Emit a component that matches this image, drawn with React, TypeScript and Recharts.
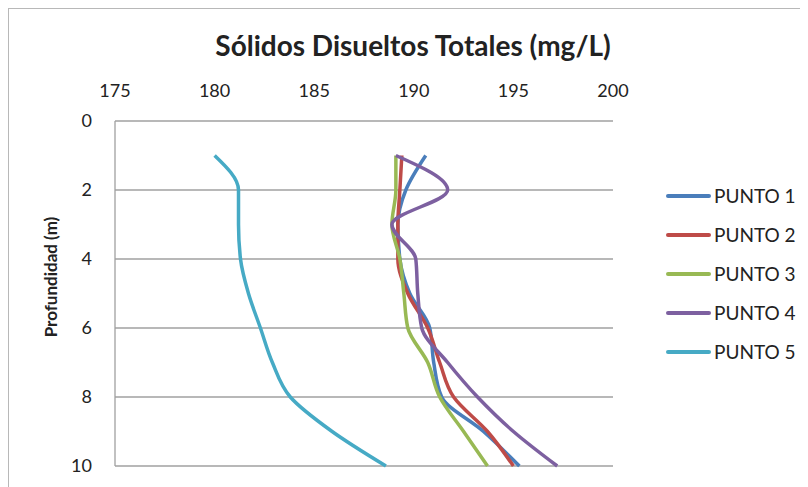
import React from "react";
import { CartesianGrid, Line, LineChart, XAxis, YAxis } from "recharts";

// Profundidad de cada muestra (m)
const DEPTHS = [1, 2, 3, 4, 5, 6, 7, 8, 9, 10];

// SDT (mg/L) por punto de muestreo
const PUNTO_1 = [190.6, 189.6, 189.2, 189.3, 189.8, 190.8, 191.0, 191.4, 193.5, 195.3];
const PUNTO_2 = [189.4, 189.3, 189.2, 189.2, 189.7, 190.7, 191.3, 192.0, 193.7, 195.0];
const PUNTO_3 = [189.1, 189.1, 188.9, 189.3, 189.5, 189.7, 190.7, 191.3, 192.5, 193.7];
const PUNTO_4 = [189.1, 191.7, 188.9, 190.1, 190.2, 190.4, 191.7, 193.2, 195.0, 197.2];
const PUNTO_5 = [180.0, 181.2, 181.2, 181.3, 181.7, 182.3, 182.9, 183.8, 185.9, 188.6];

const X_TICKS = [175, 180, 185, 190, 195, 200];
const Y_TICKS = [0, 2, 4, 6, 8, 10];

const SERIES = [
  { key: "p1", name: "PUNTO 1", color: "#4A7EBB", values: PUNTO_1 },
  { key: "p2", name: "PUNTO 2", color: "#BE4B48", values: PUNTO_2 },
  { key: "p3", name: "PUNTO 3", color: "#98B954", values: PUNTO_3 },
  { key: "p4", name: "PUNTO 4", color: "#7D60A0", values: PUNTO_4 },
  { key: "p5", name: "PUNTO 5", color: "#46AAC5", values: PUNTO_5 },
];

const data = DEPTHS.map((depth, i) => {
  const row: Record<string, number> = { depth };
  SERIES.forEach((s) => {
    row[s.key] = s.values[i];
  });
  return row;
});

const FONT = "Lato, 'Open Sans', sans-serif";

const App: React.FC = () => {
  return (
    <div
      style={{
        position: "relative",
        width: 800,
        height: 479,
        borderTop: "1px solid #b8b8b8",
        borderLeft: "1px solid #b8b8b8",
        boxSizing: "border-box",
        fontFamily: FONT,
        color: "#222",
        background: "#fff",
      }}
    >
      {/* Título */}
      <div
        style={{
          position: "absolute",
          left: 0,
          width: 808,
          top: 19,
          textAlign: "center",
          fontSize: 28,
          fontWeight: 700,
        }}
      >
        Sólidos Disueltos Totales (mg/L)
      </div>

      <LineChart
        width={800}
        height={479}
        data={data}
        layout="vertical"
        margin={{ top: 73, right: 195, bottom: 21, left: 0 }}
        style={{ position: "absolute", left: -1, top: -1 }}
      >
        <CartesianGrid vertical={false} stroke="#a0a0a0" strokeWidth={1.3} />
        <XAxis
          type="number"
          orientation="top"
          domain={[175, 200]}
          ticks={X_TICKS}
          axisLine={false}
          tickLine={false}
          tickSize={0}
          tickMargin={24}
          height={40}
          tick={{ fill: "#222", fontSize: 18, fontFamily: FONT }}
        />
        <YAxis
          type="number"
          dataKey="depth"
          domain={[0, 10]}
          ticks={Y_TICKS}
          width={107}
          axisLine={{ stroke: "#a0a0a0", strokeWidth: 1.3 }}
          tickLine={false}
          tickSize={0}
          tickMargin={23}
          tick={{ fill: "#222", fontSize: 18, fontFamily: FONT }}
          label={{
            content: () => (
              <text
                x={42}
                y={269}
                transform="rotate(-90 42 269)"
                textAnchor="middle"
                dominantBaseline="central"
                fontSize={17}
                fontWeight={700}
                fontFamily={FONT}
                fill="#222"
              >
                Profundidad (m)
              </text>
            ),
          }}
        />
        {SERIES.map((s) => (
          <Line
            key={s.key}
            dataKey={s.key}
            name={s.name}
            type="monotone"
            stroke={s.color}
            strokeWidth={3.5}
            dot={false}
            isAnimationActive={false}
          />
        ))}
      </LineChart>

      {/* Leyenda */}
      <div style={{ position: "absolute", left: 657, top: 167 }}>
        {SERIES.map((s) => (
          <div
            key={s.key}
            style={{ display: "flex", alignItems: "center", height: 39 }}
          >
            <div
              style={{
                width: 45,
                height: 4,
                borderRadius: 2,
                background: s.color,
                marginRight: 3,
              }}
            />
            <span style={{ fontSize: 19 }}>{s.name}</span>
          </div>
        ))}
      </div>
    </div>
  );
};

export default App;
